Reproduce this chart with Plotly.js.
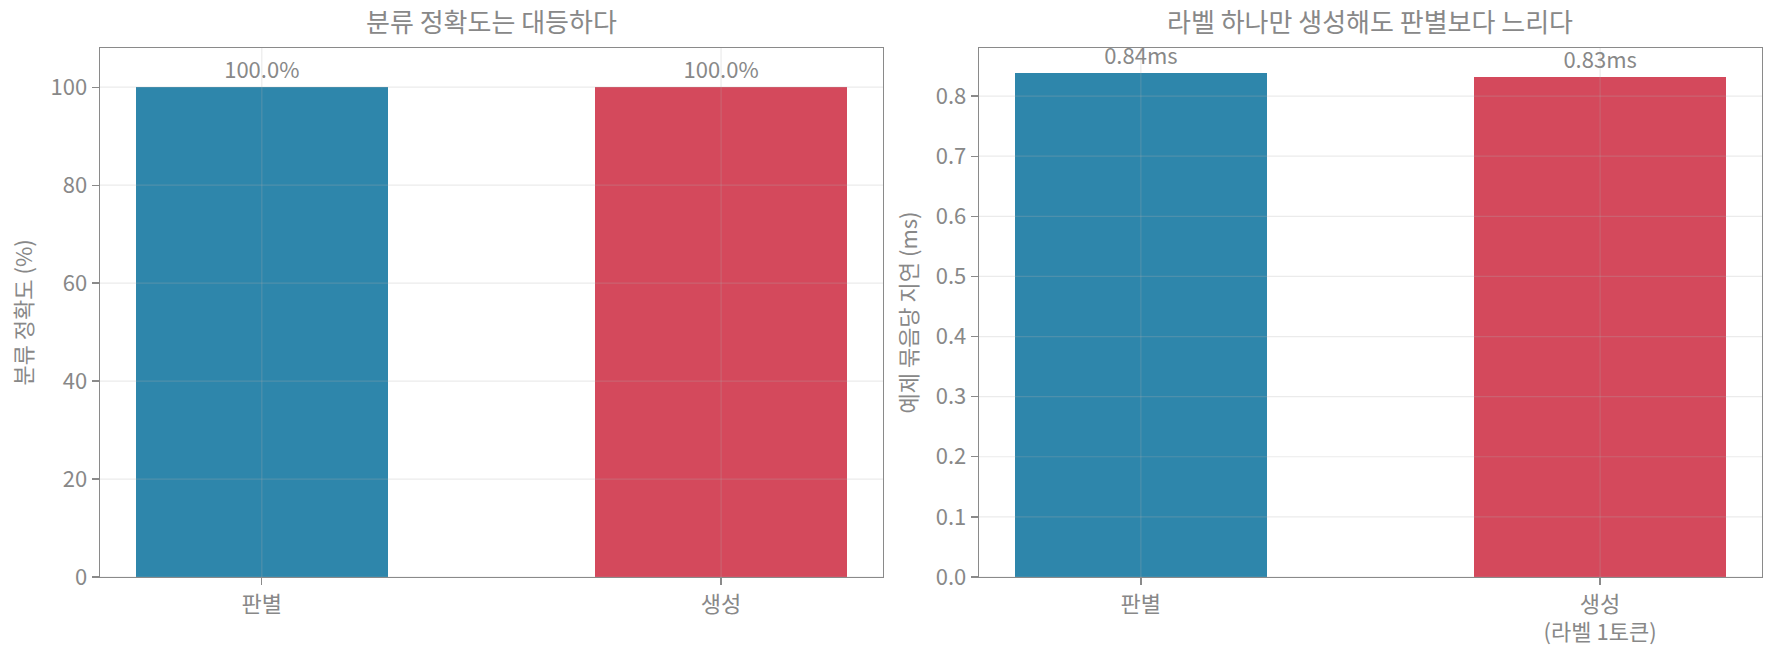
<!DOCTYPE html>
<html>
<head>
<meta charset="utf-8">
<script src="https://cdn.plot.ly/plotly-3.0.1.min.js"></script>
<style>html,body{margin:0;padding:0;background:#fff;}#chart{width:1778px;height:658px;}</style>
</head>
<body>
<div id="chart"></div>
<script>
const categories = [0, 1];
const leftTickLabels = ["판별", "생성"];
const rightTickLabels = ["판별", "생성<br>(라벨 1토큰)"];
const accuracyValues = [100.0, 100.0];
const latencyValues = [0.838, 0.831];
const barColors = ["#2E86AB", "#D4495C"];
const leftYTicks = [0, 20, 40, 60, 80, 100];
const rightYTicks = [0.0, 0.1, 0.2, 0.3, 0.4, 0.5, 0.6, 0.7, 0.8];
const leftTitle = "분류 정확도는 대등하다";
const rightTitle = "라벨 하나만 생성해도 판별보다 느리다";
const leftYTitle = "분류 정확도 (%)";
const rightYTitle = "예제 묶음당 지연 (ms)";

const FONT = "'Noto Sans CJK KR', 'Noto Sans', sans-serif";
const TXT = "#888888";
const AX = "#8a8a8a";
const GRID = "rgba(175,175,175,0.25)";

const traces = [
  {
    type: "bar", x: categories, y: accuracyValues, width: 0.55,
    marker: {color: barColors, line: {width: 0}},
    texttemplate: "%{y:.1f}%", textposition: "outside", cliponaxis: false,
    textfont: {family: FONT, size: 22, color: TXT},
    xaxis: "x", yaxis: "y", hoverinfo: "none"
  },
  {
    type: "bar", x: categories, y: latencyValues, width: 0.55,
    marker: {color: barColors, line: {width: 0}},
    texttemplate: "%{y:.2f}ms", textposition: "outside", cliponaxis: false,
    textfont: {family: FONT, size: 22, color: TXT},
    xaxis: "x2", yaxis: "y2", hoverinfo: "none"
  }
];

// grid lines drawn above the bars (as in the reference), derived from the tick arrays
const shapes = [];
function addGrid(xa, ya, yticks) {
  yticks.forEach(v => shapes.push({type: "line", layer: "above", xref: xa + " domain", yref: ya,
    x0: 0, x1: 1, y0: v, y1: v, line: {color: GRID, width: 1.2}}));
  categories.forEach(c => shapes.push({type: "line", layer: "above", xref: xa, yref: ya + " domain",
    x0: c, x1: c, y0: 0, y1: 1, line: {color: GRID, width: 1.2}}));
}
addGrid("x", "y", leftYTicks);
addGrid("x2", "y2", rightYTicks);

const axisCommon = {
  showline: true, linecolor: AX, linewidth: 1.3, mirror: true,
  ticks: "outside", ticklen: 7, tickcolor: AX, tickwidth: 1.3,
  showgrid: false, zeroline: false,
  tickfont: {family: FONT, size: 22, color: TXT},
  layer: "above traces"
};

const layout = {
  width: 1778, height: 658,
  paper_bgcolor: "#ffffff", plot_bgcolor: "#ffffff",
  showlegend: false,
  margin: {l: 0, r: 0, t: 48, b: 81},
  bargap: 0,
  shapes: shapes,
  xaxis: Object.assign({}, axisCommon, {
    domain: [0.0562, 0.4966], range: [-0.3525, 1.3525],
    tickvals: categories, ticktext: leftTickLabels, anchor: "y"
  }),
  yaxis: Object.assign({}, axisCommon, {
    domain: [0, 1], range: [0, 108], tickvals: leftYTicks, anchor: "x",
    title: {text: leftYTitle, font: {family: FONT, size: 22, color: TXT}, standoff: 12}
  }),
  xaxis2: Object.assign({}, axisCommon, {
    domain: [0.5506, 0.991], range: [-0.3525, 1.3525],
    tickvals: categories, ticktext: rightTickLabels, anchor: "y2"
  }),
  yaxis2: Object.assign({}, axisCommon, {
    domain: [0, 1], range: [0, 0.88], tickvals: rightYTicks, tickformat: ".1f", anchor: "x2",
    title: {text: rightYTitle, font: {family: FONT, size: 22, color: TXT}, standoff: 12}
  }),
  annotations: [
    {text: leftTitle, xref: "paper", yref: "paper", x: (0.0562 + 0.4966) / 2, xanchor: "center",
     y: 1, yanchor: "bottom", yshift: 7, showarrow: false, font: {family: FONT, size: 26, color: TXT}},
    {text: rightTitle, xref: "paper", yref: "paper", x: (0.5506 + 0.991) / 2, xanchor: "center",
     y: 1, yanchor: "bottom", yshift: 7, showarrow: false, font: {family: FONT, size: 26, color: TXT}}
  ]
};

Plotly.newPlot("chart", traces, layout, {staticPlot: true, displayModeBar: false});
</script>
</body>
</html>
